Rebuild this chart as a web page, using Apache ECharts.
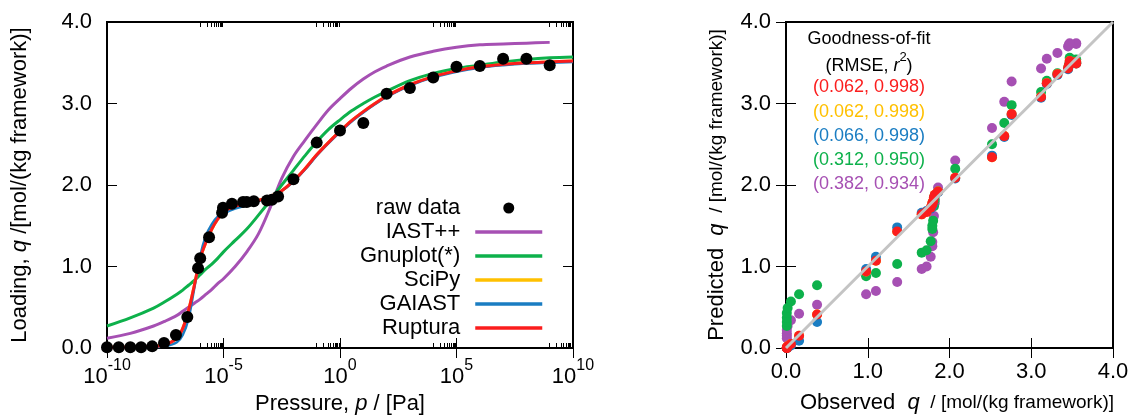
<!DOCTYPE html>
<html>
<head>
<meta charset="utf-8">
<script src="https://cdn.jsdelivr.net/npm/echarts@6/dist/echarts.min.js"></script>
<style>
html,body{margin:0;padding:0;background:#fff}
#chart{width:1133px;height:420px}
</style>
</head>
<body>
<div id="chart"></div>
<script>
// Measured isotherm: pressure [Pa] and loading [mol/(kg framework)]
const rawPressure = [1e-10, 3.2e-10, 1e-9, 2.9e-9, 8.7e-9, 2.8e-8, 9.1e-8, 2.8e-7, 8.1e-7, 1e-6,
  2.4e-6, 8.7e-6, 9.5e-6, 2.3e-5, 6.9e-5, 1e-4, 2e-4, 7.4e-4, 1.2e-3, 2.2e-3,
  1e-2, 1e-1, 1, 1e1, 1e2, 1e3, 1e4, 1e5, 1e6, 1e7, 1e8, 1e9];
const rawLoading = [0.01, 0.01, 0.01, 0.01, 0.02, 0.06, 0.16, 0.38, 0.98, 1.10,
  1.36, 1.66, 1.72, 1.77, 1.79, 1.79, 1.80, 1.81, 1.82, 1.86,
  2.07, 2.52, 2.67, 2.76, 3.12, 3.19, 3.32, 3.45, 3.46, 3.55, 3.55, 3.47];

// Pressures [Pa] at which the fitted isotherms are drawn
const fitPressure = [1e-10, 1e-9, 1e-8, 3.16e-8, 1e-7, 1.78e-7, 3.16e-7, 5.62e-7, 1e-6, 1.78e-6,
  3.16e-6, 5.62e-6, 1e-5, 3.16e-5, 1e-4, 3.16e-4, 1e-3, 3.16e-3, 1e-2, 3.16e-2,
  1e-1, 3.16e-1, 1, 3.16, 1e1, 3.16e1, 1e2, 1e3, 1e4, 1e5, 1e6, 1e7, 1e8, 1e9, 1e10];
const fitIASTpp = [0.12, 0.18, 0.27, 0.33, 0.40, 0.45, 0.50, 0.55, 0.60, 0.66,
  0.72, 0.79, 0.85, 1.00, 1.18, 1.40, 1.72, 2.08, 2.35, 2.55,
  2.74, 2.92, 3.06, 3.19, 3.30, 3.39, 3.46, 3.57, 3.64, 3.69, 3.72, 3.73, 3.74, 3.75, null];
const fitGnuplot = [0.27, 0.37, 0.49, 0.57, 0.66, 0.71, 0.77, 0.83, 0.90, 0.97,
  1.03, 1.10, 1.18, 1.32, 1.46, 1.63, 1.81, 2.00, 2.18, 2.36,
  2.53, 2.68, 2.80, 2.91, 3.00, 3.08, 3.15, 3.28, 3.37, 3.43, 3.47, 3.51, 3.54, 3.56, 3.57];
const fitSciPy = [0.01, 0.01, 0.02, 0.04, 0.12, 0.24, 0.46, 0.77, 1.10, 1.30,
  1.46, 1.58, 1.67, 1.74, 1.78, 1.81, 1.86, 1.93, 2.05, 2.20,
  2.37, 2.52, 2.66, 2.79, 2.90, 3.00, 3.09, 3.23, 3.33, 3.40, 3.45, 3.48, 3.50, 3.51, 3.52];
const fitGAIAST = [0.00, 0.00, 0.01, 0.02, 0.07, 0.16, 0.36, 0.74, 1.13, 1.38,
  1.52, 1.61, 1.65, 1.71, 1.75, 1.80, 1.86, 1.93, 2.04, 2.19,
  2.36, 2.51, 2.65, 2.78, 2.89, 2.99, 3.08, 3.22, 3.32, 3.39, 3.44, 3.47, 3.49, 3.50, 3.51];
const fitRuptura = [0.01, 0.01, 0.02, 0.04, 0.12, 0.24, 0.46, 0.77, 1.10, 1.30,
  1.46, 1.58, 1.67, 1.74, 1.78, 1.81, 1.86, 1.93, 2.05, 2.20,
  2.37, 2.52, 2.66, 2.79, 2.90, 3.00, 3.09, 3.23, 3.33, 3.40, 3.45, 3.48, 3.50, 3.51, 3.52];

// Loading predicted by each fit at the measured pressures
const predIASTpp = [0.12, 0.15, 0.18, 0.22, 0.27, 0.34, 0.42, 0.53, 0.66, 0.70,
  0.81, 0.97, 1.00, 1.12, 1.25, 1.30, 1.42, 1.62, 1.78, 1.97,
  2.30, 2.70, 3.02, 3.27, 3.43, 3.55, 3.62, 3.70, 3.72, 3.73, 3.74, 3.74];
const predGnuplot = [0.27, 0.32, 0.37, 0.43, 0.49, 0.57, 0.66, 0.77, 0.88, 0.92,
  1.03, 1.17, 1.20, 1.31, 1.46, 1.50, 1.56, 1.74, 1.82, 1.92,
  2.20, 2.50, 2.76, 2.98, 3.14, 3.28, 3.37, 3.43, 3.47, 3.51, 3.54, 3.56];
const predSciPy = [0.00, 0.00, 0.00, 0.01, 0.02, 0.05, 0.15, 0.41, 0.94, 1.07,
  1.43, 1.64, 1.67, 1.72, 1.76, 1.78, 1.80, 1.85, 1.88, 1.92,
  2.09, 2.34, 2.60, 2.87, 3.08, 3.25, 3.36, 3.43, 3.47, 3.49, 3.51, 3.52];
const predGAIAST = [0.00, 0.00, 0.00, 0.00, 0.01, 0.03, 0.09, 0.32, 0.97, 1.12,
  1.48, 1.66, 1.68, 1.71, 1.74, 1.75, 1.78, 1.84, 1.87, 1.91,
  2.08, 2.36, 2.59, 2.86, 3.07, 3.24, 3.35, 3.42, 3.46, 3.49, 3.50, 3.51];
const predRuptura = [0.00, 0.00, 0.00, 0.01, 0.02, 0.05, 0.15, 0.41, 0.94, 1.07,
  1.43, 1.64, 1.67, 1.72, 1.76, 1.78, 1.80, 1.85, 1.88, 1.92,
  2.09, 2.34, 2.60, 2.87, 3.08, 3.25, 3.36, 3.43, 3.47, 3.49, 3.51, 3.52];

// Goodness-of-fit table, listed top to bottom
const gofMethods = ['Ruptura', 'SciPy', 'GAIAST', 'Gnuplot(*)', 'IAST++'];
const gofRMSE = ['0.062', '0.062', '0.066', '0.312', '0.382'];
const gofR2 = ['0.998', '0.998', '0.998', '0.950', '0.934'];

// Axis ticks
const pressureTicks = [1e-10, 1e-5, 1, 1e5, 1e10];
const pressureMinorTicks = [];
[-5, 0, 5, 10].forEach(function (n) {
  for (let k = 1; k <= 9; k++) pressureMinorTicks.push(k * Math.pow(10, n - 1));
});

const methodNames = ['IAST++', 'Gnuplot(*)', 'SciPy', 'GAIAST', 'Ruptura'];
const fitCurves = [fitIASTpp, fitGnuplot, fitSciPy, fitGAIAST, fitRuptura];
const predictions = [predIASTpp, predGnuplot, predSciPy, predGAIAST, predRuptura];
const colors = {
  'IAST++': '#a650b3',
  'Gnuplot(*)': '#0db14b',
  'SciPy': '#ffc000',
  'GAIAST': '#1a7dc2',
  'Ruptura': '#fb1d1d'
};
const lineWidths = {'IAST++': 3, 'Gnuplot(*)': 3, 'SciPy': 3, 'GAIAST': 2.5, 'Ruptura': 3};

const FONT = '"Liberation Sans", Arial, Helvetica, sans-serif';
const tickFont = {color: '#000', fontSize: 22, fontFamily: FONT};

function majorTick(len) {
  return {show: true, inside: true, length: len, lineStyle: {color: '#000', width: 1}};
}

const xAxes = [
  // left panel, bottom: log pressure axis with labels
  {
    gridIndex: 0, type: 'log', logBase: 10, min: 1e-10, max: 1e10, position: 'bottom',
    axisLine: {show: false}, splitLine: {show: false},
    axisTick: Object.assign(majorTick(10), {customValues: pressureTicks}),
    axisLabel: {
      customValues: pressureTicks, margin: 10, color: '#000', fontFamily: FONT,
      formatter: function (v) { return '{b|10}{e|' + Math.round(Math.log10(v)) + '}'; },
      rich: {
        b: {fontSize: 22, lineHeight: 30, verticalAlign: 'bottom', fontFamily: FONT, color: '#000'},
        e: {fontSize: 16, lineHeight: 12, verticalAlign: 'top', fontFamily: FONT, color: '#000'}
      }
    },
    name: '{n|Pressure, }{i|p}{n| / [Pa]}', nameLocation: 'middle', nameGap: 44,
    nameTextStyle: {rich: {
      n: {fontSize: 22, fontFamily: FONT, color: '#000'},
      i: {fontSize: 22, fontFamily: FONT, fontStyle: 'italic', color: '#000'}
    }}
  },
  // left panel, top: mirrored major ticks
  {
    gridIndex: 0, type: 'log', logBase: 10, min: 1e-10, max: 1e10, position: 'top',
    axisLine: {show: false}, splitLine: {show: false}, axisLabel: {show: false},
    axisTick: Object.assign(majorTick(10), {customValues: pressureTicks})
  },
  // left panel, minor ticks bottom and top
  {
    gridIndex: 0, type: 'log', logBase: 10, min: 1e-10, max: 1e10, position: 'bottom',
    axisLine: {show: false}, splitLine: {show: false}, axisLabel: {show: false},
    axisTick: Object.assign(majorTick(5), {customValues: pressureMinorTicks})
  },
  {
    gridIndex: 0, type: 'log', logBase: 10, min: 1e-10, max: 1e10, position: 'top',
    axisLine: {show: false}, splitLine: {show: false}, axisLabel: {show: false},
    axisTick: Object.assign(majorTick(5), {customValues: pressureMinorTicks})
  },
  // right panel, bottom: observed loading
  {
    gridIndex: 1, type: 'value', min: 0, max: 4, interval: 1, position: 'bottom',
    axisLine: {show: false}, splitLine: {show: false},
    axisTick: majorTick(10),
    axisLabel: Object.assign({margin: 13, formatter: function (v) { return v.toFixed(1); }}, tickFont),
    name: '{n|Observed  }{i|q}{u|  / [mol/(kg framework)]}', nameLocation: 'middle', nameGap: 44,
    nameTextStyle: {padding: [0, 0, 0, 15], rich: {
      n: {fontSize: 22, fontFamily: FONT, color: '#000'},
      i: {fontSize: 22, fontFamily: FONT, fontStyle: 'italic', color: '#000'},
      u: {fontSize: 19, fontFamily: FONT, color: '#000'}
    }}
  },
  {
    gridIndex: 1, type: 'value', min: 0, max: 4, interval: 1, position: 'top',
    axisLine: {show: false}, splitLine: {show: false}, axisLabel: {show: false},
    axisTick: majorTick(10)
  }
];

const yAxes = [
  {
    gridIndex: 0, type: 'value', min: 0, max: 4, interval: 1, position: 'left',
    axisLine: {show: false}, splitLine: {show: false},
    axisTick: majorTick(10),
    axisLabel: Object.assign({margin: 15, formatter: function (v) { return v.toFixed(1); }}, tickFont),
    name: '{n|Loading, }{i|q}{n| /[mol/(kg framework)]}', nameLocation: 'middle', nameGap: 76,
    nameTextStyle: {rich: {
      n: {fontSize: 22, fontFamily: FONT, color: '#000'},
      i: {fontSize: 22, fontFamily: FONT, fontStyle: 'italic', color: '#000'}
    }}
  },
  {
    gridIndex: 0, type: 'value', min: 0, max: 4, interval: 1, position: 'right',
    axisLine: {show: false}, splitLine: {show: false}, axisLabel: {show: false},
    axisTick: majorTick(10)
  },
  {
    gridIndex: 1, type: 'value', min: 0, max: 4, interval: 1, position: 'left',
    axisLine: {show: false}, splitLine: {show: false},
    axisTick: majorTick(10),
    axisLabel: Object.assign({margin: 15, formatter: function (v) { return v.toFixed(1); }}, tickFont),
    name: '{n|Predicted  }{i|q}{u|  / [mol/(kg framework)]}', nameLocation: 'middle', nameGap: 58,
    nameTextStyle: {rich: {
      n: {fontSize: 22, fontFamily: FONT, color: '#000'},
      i: {fontSize: 22, fontFamily: FONT, fontStyle: 'italic', color: '#000'},
      u: {fontSize: 19, fontFamily: FONT, color: '#000'}
    }}
  },
  {
    gridIndex: 1, type: 'value', min: 0, max: 4, interval: 1, position: 'right',
    axisLine: {show: false}, splitLine: {show: false}, axisLabel: {show: false},
    axisTick: majorTick(10)
  }
];

const series = [];

// fitted isotherms (left panel)
methodNames.forEach(function (name, m) {
  series.push({
    name: name, type: 'line', xAxisIndex: 0, yAxisIndex: 0,
    data: fitPressure.map(function (p, i) { return [p, fitCurves[m][i]]; }),
    smooth: 0.35, showSymbol: false, symbol: 'none', connectNulls: false,
    lineStyle: {color: colors[name], width: lineWidths[name]},
    itemStyle: {color: colors[name]},
    z: 2 + m, animation: false
  });
});

// measured points (left panel)
series.push({
  name: 'raw data', type: 'scatter', xAxisIndex: 0, yAxisIndex: 0,
  data: rawPressure.map(function (p, i) { return [p, rawLoading[i]]; }),
  symbol: 'circle', symbolSize: 12, clip: false,
  itemStyle: {color: '#000', opacity: 1},
  z: 10, animation: false
});

// parity points (right panel)
methodNames.forEach(function (name, m) {
  series.push({
    name: name + ' parity', type: 'scatter', xAxisIndex: 4, yAxisIndex: 2,
    data: rawLoading.map(function (q, i) { return [q, predictions[m][i]]; }),
    symbol: 'circle', symbolSize: 10, clip: false,
    itemStyle: {color: colors[name], opacity: 1},
    z: 2 + m, animation: false
  });
});

// parity diagonal
series.push({
  name: 'parity', type: 'line', xAxisIndex: 4, yAxisIndex: 2,
  data: [[0, 0], [4, 4]], showSymbol: false, symbol: 'none',
  lineStyle: {color: '#c4c4c4', width: 3},
  z: 12, animation: false
});

const insetX = 869;
const insetTop = 39;
const insetStep = 24.2;
const graphics = [
  {type: 'text', x: insetX, y: insetTop, z: 20,
   style: {text: 'Goodness-of-fit', font: '18px ' + FONT, fill: '#000', align: 'center', verticalAlign: 'middle'}},
  {type: 'text', x: insetX, y: insetTop + insetStep, z: 20,
   style: {text: '{n|(RMSE, }{i|r}{s|2}{n|)}', align: 'center', verticalAlign: 'middle',
     rich: {
       n: {fontSize: 18, fontFamily: FONT, color: '#000', lineHeight: 24, verticalAlign: 'bottom'},
       i: {fontSize: 18, fontFamily: FONT, fontStyle: 'italic', color: '#000', lineHeight: 24, verticalAlign: 'bottom'},
       s: {fontSize: 13, fontFamily: FONT, color: '#000', lineHeight: 10, verticalAlign: 'top'}
     }}}
];
gofMethods.forEach(function (name, k) {
  graphics.push({
    type: 'text', x: insetX, y: insetTop + insetStep * (k + 2), z: 20,
    style: {text: '(' + gofRMSE[k] + ', ' + gofR2[k] + ')', font: '18px ' + FONT,
      fill: colors[name], align: 'center', verticalAlign: 'middle'}
  });
});

// legend entries: plain line samples for the fits, a dot for the measurements
const legendData = [{name: 'raw data', icon: 'circle'}].concat(methodNames.map(function (name) {
  return {
    name: name,
    itemStyle: {color: 'rgba(0,0,0,0)', opacity: 0, borderWidth: 0},
    lineStyle: {color: colors[name], width: 3.5}
  };
}));

const chart = echarts.init(document.getElementById('chart'), null, {renderer: 'canvas'});
chart.setOption({
  backgroundColor: '#fff',
  animation: false,
  textStyle: {fontFamily: FONT, color: '#000'},
  grid: [
    {left: 107, top: 22, width: 466, height: 326, show: true, borderColor: '#000', borderWidth: 2, backgroundColor: 'transparent', containLabel: false},
    {left: 786, top: 22, width: 327, height: 326, show: true, borderColor: '#000', borderWidth: 2, backgroundColor: 'transparent', containLabel: false}
  ],
  xAxis: xAxes,
  yAxis: yAxes,
  legend: {
    orient: 'vertical', align: 'right', right: 589, top: 196, padding: 0, itemGap: 0,
    itemWidth: 67, itemHeight: 11, selectedMode: false,
    textStyle: {fontSize: 22, fontFamily: FONT, color: '#000', lineHeight: 24, padding: [0, 10, 0, 0]},
    data: legendData
  },
  graphic: graphics,
  series: series
});
</script>
</body>
</html>
